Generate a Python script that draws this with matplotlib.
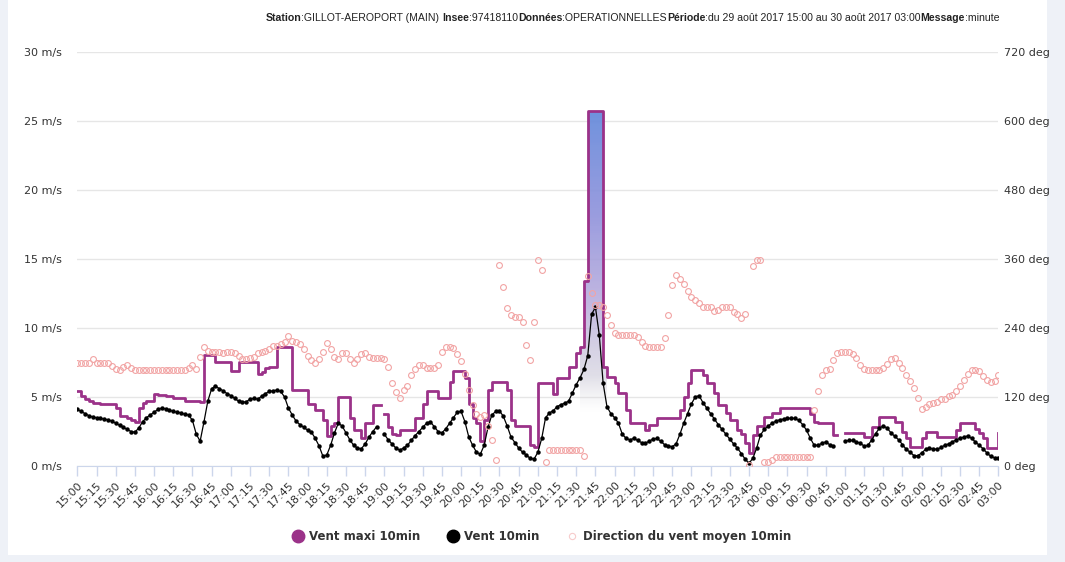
import numpy as np
import matplotlib
matplotlib.use('Agg')
import matplotlib.pyplot as plt
from matplotlib.colors import LinearSegmentedColormap
from matplotlib.lines import Line2D
from matplotlib.patches import Rectangle

nan = np.nan

# minutes depuis le 29/08 15:00, un point toutes les 3 min
minutes = list(range(0, 721, 3))

# Vent maxi 10min (m/s)
vent_maxi = [
    5.4, 5.1, 4.85, 4.7, 4.6, 4.55, 4.5, 4.5, 4.5, 4.5, 4.2, 3.6, 3.6, 3.5, 3.3, 3.2, 4.2, 4.6, 4.7, 4.7,
    5.2, 5.15, 5.15, 5.1, 5.1, 4.9, 4.9, 4.9, 4.7, 4.7, 4.7, 4.7, 4.65, 8.05, 8.05, 8.05, 7.55, 7.55, 7.55, 7.55,
    6.9, 6.9, 7.55, 7.55, 7.55, 7.55, 7.55, 6.7, 6.8, 7.1, 7.2, 7.2, 8.65, 8.65, 8.65, 8.65, 5.5, 5.5, 5.5, 5.5,
    4.5, 4.5, 4.06, 4.06, 3.33, 2.2, 2.9, 3.1, 5.0, 5.0, 5.0, 3.5, 2.6, 2.6, 2.0, 3.1, 3.1, 4.4, 4.4, nan,
    3.8, 2.8, 2.3, 2.25, 2.6, 2.6, 2.6, 2.6, 3.45, 3.45, 4.5, 5.4, 5.4, 5.4, 4.9, 4.9, 4.9, 6.1, 6.9, 6.9,
    6.9, 6.4, 4.5, 3.5, 3.1, 1.8, 3.3, 5.5, 6.1, 6.1, 6.1, 6.1, 5.5, 3.3, 2.9, 2.9, 2.9, 2.9, 1.5, 1.4,
    6.0, 6.0, 6.0, 6.0, 5.2, 6.35, 6.35, 6.35, 7.2, 7.2, 8.2, 8.65, 13.4, 25.7, 25.7, 25.7, 25.7, 7.2, 6.47, 6.47,
    6.0, 5.27, 5.27, 4.06, 3.1, 3.1, 3.1, 3.1, 2.6, 3.0, 3.0, 3.45, 3.45, 3.45, 3.45, 3.45, 3.45, 4.06, 5.0, 6.0,
    6.96, 6.96, 6.96, 6.6, 6.0, 6.0, 5.27, 4.42, 4.42, 3.82, 3.33, 3.33, 2.61, 2.3, 1.64, 0.92, 2.25, 2.9, 2.9, 3.57,
    3.57, 3.82, 3.82, 4.18, 4.18, 4.18, 4.18, 4.18, 4.18, 4.18, 4.18, 3.8, 3.2, 3.1, 3.1, 3.1, 3.1, 2.25, nan, nan,
    2.37, 2.37, 2.37, 2.37, 2.37, 2.13, 2.13, 2.8, 2.8, 3.57, 3.57, 3.57, 3.57, 3.2, 3.2, 2.5, 2.0, 1.4, 1.4, 1.4,
    2.0, 2.49, 2.49, 2.49, 2.13, 2.13, 2.13, 2.13, 2.13, 2.6, 3.09, 3.09, 3.09, 3.09, 2.7, 2.37, 2.0, 1.28, 1.28, 1.28, 2.37,
]

# Vent 10min (m/s)
vent = [
    4.1, 3.95, 3.8, 3.65, 3.55, 3.5, 3.45, 3.4, 3.35, 3.25, 3.1, 2.95, 2.8, 2.65, 2.5, 2.45, 2.75, 3.2, 3.5, 3.7,
    3.9, 4.1, 4.2, 4.15, 4.05, 3.95, 3.9, 3.85, 3.75, 3.7, 3.3, 2.3, 1.8, 3.2, 4.7, 5.6, 5.8, 5.6, 5.45, 5.25,
    5.1, 4.9, 4.7, 4.62, 4.65, 4.85, 4.9, 4.85, 5.05, 5.25, 5.4, 5.45, 5.5, 5.4, 5.0, 4.2, 3.7, 3.25, 3.0, 2.8,
    2.6, 2.45, 2.0, 1.45, 0.7, 0.8, 1.5, 2.4, 3.1, 2.9, 2.4, 1.9, 1.5, 1.3, 1.25, 1.6, 2.1, 2.5, 2.85, nan,
    2.3, 1.9, 1.6, 1.3, 1.15, 1.3, 1.5, 1.85, 2.2, 2.5, 2.8, 3.1, 3.2, 2.85, 2.5, 2.4, 2.7, 3.1, 3.5, 3.9,
    3.95, 3.2, 2.1, 1.5, 1.0, 0.85, 1.5, 2.8, 3.7, 3.95, 4.0, 3.6, 2.9, 2.1, 1.7, 1.3, 1.0, 0.8, 0.55, 0.5,
    1.0, 2.0, 3.5, 3.85, 4.0, 4.3, 4.45, 4.55, 4.7, 5.3, 5.9, 6.4, 7.0, 8.0, 11.0, 11.5, 9.5, 6.0, 4.3, 3.8,
    3.5, 3.1, 2.3, 2.0, 1.9, 2.0, 1.85, 1.7, 1.65, 1.8, 1.95, 2.0, 1.8, 1.55, 1.45, 1.4, 1.6, 2.3, 3.1, 3.8,
    4.5, 5.0, 5.1, 4.6, 4.2, 3.8, 3.4, 3.0, 2.65, 2.3, 1.95, 1.6, 1.3, 0.9, 0.5, 0.2, 0.55, 1.3, 2.25, 2.65,
    2.9, 3.1, 3.25, 3.35, 3.4, 3.45, 3.45, 3.45, 3.3, 3.0, 2.6, 2.0, 1.5, 1.5, 1.65, 1.75, 1.55, 1.45, nan, nan,
    1.8, 1.85, 1.85, 1.75, 1.65, 1.45, 1.5, 1.9, 2.35, 2.75, 2.9, 2.75, 2.4, 2.15, 1.9, 1.55, 1.2, 1.0, 0.75, 0.75,
    0.95, 1.2, 1.28, 1.25, 1.2, 1.35, 1.5, 1.6, 1.75, 1.9, 2.0, 2.1, 2.18, 2.0, 1.75, 1.5, 1.25, 0.95, 0.7, 0.6, 0.55,
]

# Direction du vent moyen 10min (deg)
direction = [
    179, 179, 179, 180, 186, 180, 179, 179, 179, 174, 168, 167, 172, 176, 170, 167, 167, 167, 167, 167,
    167, 167, 167, 167, 167, 167, 167, 167, 167, 170, 176, 168, 190, 207, 200, 199, 198, 198, 197, 198,
    198, 197, 192, 186, 186, 187, 190, 196, 199, 200, 204, 208, 208, 212, 216, 226, 218, 216, 212, 204,
    192, 184, 179, 186, 199, 214, 204, 190, 186, 196, 196, 186, 180, 186, 194, 196, 190, 187, 187, 188,
    186, 172, 145, 128, 118, 132, 140, 158, 168, 176, 176, 170, 170, 170, 176, 199, 207, 207, 205, 194,
    182, 160, 132, 106, 90, 86, 88, 70, 45, 10, 350, 312, 275, 262, 260, 260, 250, 210, 185, 250,
    358, 340, 7, 28, 28, 28, 28, 28, 28, 28, 28, 28, 18, 330, 300, 280, 280, 277, 262, 245,
    232, 228, 228, 228, 228, 228, 224, 216, 208, 207, 207, 207, 207, 222, 262, 315, 333, 326, 316, 305,
    294, 289, 283, 277, 277, 277, 270, 272, 277, 277, 277, 268, 265, 257, 265, 2, 347, 358, 358, 7,
    7, 10, 16, 16, 16, 16, 16, 16, 16, 16, 16, 16, 97, 130, 158, 167, 168, 185, 196, 198,
    199, 199, 195, 188, 176, 168, 167, 167, 167, 167, 170, 178, 186, 187, 180, 170, 158, 148, 135, 118,
    100, 103, 108, 109, 112, 116, 116, 122, 123, 130, 140, 150, 160, 167, 167, 166, 156, 150, 146, 148, 158,
]

tick_minutes = list(range(0, 721, 15))
tick_labels = [
    "15:00", "15:15", "15:30", "15:45", "16:00", "16:15", "16:30", "16:45",
    "17:00", "17:15", "17:30", "17:45", "18:00", "18:15", "18:30", "18:45",
    "19:00", "19:15", "19:30", "19:45", "20:00", "20:15", "20:30", "20:45",
    "21:00", "21:15", "21:30", "21:45", "22:00", "22:15", "22:30", "22:45",
    "23:00", "23:15", "23:30", "23:45", "00:00", "00:15", "00:30", "00:45",
    "01:00", "01:15", "01:30", "01:45", "02:00", "02:15", "02:30", "02:45", "03:00",
]
speed_ticks = [0, 5, 10, 15, 20, 25, 30]
dir_ticks = [0, 120, 240, 360, 480, 600, 720]

series_names = ["Vent maxi 10min", "Vent 10min", "Direction du vent moyen 10min"]
title_parts = [
    ("Station", ":GILLOT-AEROPORT (MAIN) "),
    ("Insee", ":97418110"),
    ("Données", ":OPERATIONNELLES"),
    ("Période", ":du 29 août 2017 15:00 au 30 août 2017 03:00"),
    ("Message", ":minute"),
]

PURPLE = '#9b3289'
PINK = '#f2a4a4'
TXT = '#333333'

fig = plt.figure(figsize=(10.65, 5.62), dpi=100, facecolor='#eef1f7')
fig.patches.append(Rectangle((0.0075, 0.0125), 0.976, 0.9875, transform=fig.transFigure,
                             facecolor='white', edgecolor='none', zorder=-10))
ax = fig.add_axes([0.0726, 0.1708, 0.8649, 0.7367])
ax.set_facecolor('none')

t = np.array(minutes, dtype=float)
p = np.array(vent_maxi, dtype=float)
b = np.array(vent, dtype=float)

# remplissage en degrade sous le pic
grad_cmap = LinearSegmentedColormap.from_list('spike', [
    (0.00, (1.0, 1.0, 1.0, 0.0)),
    (0.15, (0.86, 0.86, 0.88, 0.0)),
    (0.25, (0.80, 0.79, 0.85, 0.6)),
    (0.45, (0.72, 0.67, 0.86, 0.85)),
    (0.70, (0.56, 0.57, 0.86, 0.9)),
    (1.00, (0.40, 0.55, 0.86, 0.95)),
])
m = (t >= 393) & (t <= 414)
poly = ax.fill_between(t[m], 0, p[m], step='post', facecolor='none', edgecolor='none')
img = ax.imshow(np.linspace(0, 1, 256).reshape(-1, 1), extent=[t[m][0], t[m][-1], 0, 26],
                origin='lower', aspect='auto', cmap=grad_cmap, zorder=1)
img.set_clip_path(poly.get_paths()[0], transform=ax.transData)

ax.plot(t, p, drawstyle='steps-post', color=PURPLE, lw=2.0, zorder=3)
ax.plot(t, b, ls='-', lw=0.9, marker='o', ms=3.2, mew=0, color='black', zorder=4)

ax.set_xlim(0, 720)
ax.set_ylim(0, 30)
ax.set_yticks(speed_ticks)
ax.set_yticklabels([f"{v} m/s" for v in speed_ticks])
ax.set_xticks(tick_minutes)
ax.set_xticklabels(tick_labels)
for lbl in ax.get_xticklabels():
    lbl.set_rotation(45)
    lbl.set_ha('right')
    lbl.set_va('top')
    lbl.set_rotation_mode('anchor')
ax.tick_params(axis='x', length=7, width=1, color='#ccd6eb', labelsize=8, labelcolor=TXT, pad=3)
ax.tick_params(axis='y', length=0, labelsize=8, labelcolor=TXT, pad=11)
ax.grid(axis='y', color='#e6e6e6', lw=1)
ax.set_axisbelow(True)
for s in ['top', 'left', 'right']:
    ax.spines[s].set_visible(False)
ax.spines['bottom'].set_color('#ccd6eb')

ax2 = ax.twinx()
ax2.plot(t, direction, ls='none', marker='o', ms=4.2, mfc='none', mec=PINK, mew=0.8, zorder=5)
ax2.set_ylim(0, 720)
ax2.set_yticks(dir_ticks)
ax2.set_yticklabels([f"{v} deg" for v in dir_ticks])
ax2.tick_params(axis='y', length=0, labelsize=8, labelcolor=TXT, pad=4)
for s in ax2.spines.values():
    s.set_visible(False)

handles = [
    Line2D([], [], ls='none', marker='o', ms=9, mfc=PURPLE, mec=PURPLE),
    Line2D([], [], ls='none', marker='o', ms=9, mfc='black', mec='black'),
    Line2D([], [], ls='none', marker='o', ms=4.5, mfc='none', mec='#f7cccc', mew=0.8),
]
fig.legend(handles, series_names, loc='center', bbox_to_anchor=(0.508, 0.045), ncol=3,
           frameon=False, prop=dict(weight='bold', size=8.5), labelcolor=TXT,
           handletextpad=0.3, columnspacing=2.2, handlelength=1.2)

# titre: libelles en gras, valeurs en normal, aligne a droite
fig.canvas.draw()
r = fig.canvas.get_renderer()
W = fig.bbox.width
pieces = []
for key, val in title_parts:
    pieces.append((key, 'bold'))
    pieces.append((val, 'normal'))
texts = [fig.text(0, 0.962, s, fontsize=7.6, weight=w, family='Liberation Sans',
                  va='baseline', color='#222222') for s, w in pieces]
widths = [tx.get_window_extent(r).width for tx in texts]
x = 0.9385 * W - sum(widths)
for tx, w in zip(texts, widths):
    tx.set_x(x / W)
    x += w

fig.savefig('out.png', dpi=100, facecolor=fig.get_facecolor())
